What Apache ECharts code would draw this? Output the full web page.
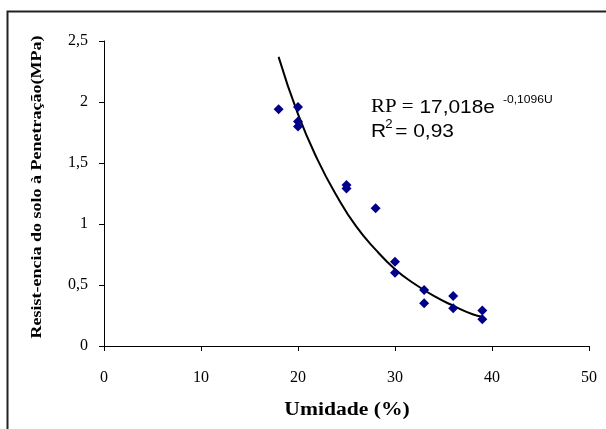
<!DOCTYPE html>
<html>
<head>
<meta charset="utf-8">
<script src="https://cdn.jsdelivr.net/npm/echarts@6/dist/echarts.min.js"></script>
<style>html,body{margin:0;padding:0;background:#fff;}#c{width:606px;height:429px;}</style>
</head>
<body>
<div id="c"></div>
<script>
// Observed points: humidity (%) and penetration resistance (MPa)
var umidade = [18, 20, 20, 20, 25, 25, 28, 30, 30, 33, 33, 36, 36, 39, 39];
var resistencia = [1.94, 1.96, 1.84, 1.80, 1.32, 1.29, 1.13, 0.69, 0.60, 0.46, 0.35, 0.41, 0.31, 0.29, 0.22];
// Trend line points
var trendX = [18, 20, 22, 24, 26, 28, 30, 32, 34, 36, 38, 39];
var trendY = [2.37, 1.90, 1.53, 1.23, 0.98, 0.79, 0.63, 0.51, 0.41, 0.33, 0.26, 0.24];
var xTicks = [0, 10, 20, 30, 40, 50];
var yTicks = ['0', '0,5', '1', '1,5', '2', '2,5'];
var xName = 'Umidade (%)';
var yName = 'Resist-encia do solo à Penetração(MPa)';

var chart = echarts.init(document.getElementById('c'), null, {renderer: 'canvas'});
var pts = umidade.map(function (u, i) { return [u, resistencia[i]]; });
var trend = trendX.map(function (u, i) { return [u, trendY[i]]; });
var serif = '"Liberation Serif", "DejaVu Serif", serif';
var sans = '"Liberation Sans", Arial, sans-serif';

chart.setOption({
  animation: false,
  backgroundColor: '#fff',
  grid: {left: 104, right: 17, top: 41, bottom: 83, containLabel: false},
  xAxis: {
    type: 'value', min: 0, max: 50, interval: 10,
    axisLine: {show: true, onZero: false, lineStyle: {color: '#000', width: 1}},
    axisTick: {show: true, inside: false, length: 5, lineStyle: {color: '#000'}},
    splitLine: {show: false},
    axisLabel: {margin: 24, color: '#000', fontFamily: serif, fontSize: 16,
      formatter: function (v) { return String(v); }}
  },
  yAxis: {
    type: 'value', min: 0, max: 2.5, interval: 0.5,
    axisLine: {show: true, onZero: false, lineStyle: {color: '#000', width: 1}},
    axisTick: {show: true, inside: false, length: 5, lineStyle: {color: '#000'}},
    splitLine: {show: false},
    axisLabel: {margin: 16, color: '#000', fontFamily: serif, fontSize: 16,
      formatter: function (v) { return yTicks[Math.round(v / 0.5)]; }}
  },
  series: [
    {type: 'line', data: trend, smooth: true, symbol: 'none', silent: true,
      lineStyle: {color: '#000', width: 2}, z: 2},
    {type: 'scatter', data: pts, symbol: 'diamond', symbolSize: 10,
      itemStyle: {color: '#00008B', opacity: 1}, z: 3}
  ],
  graphic: [
    {type: 'rect', left: 5, top: 9, silent: true,
      shape: {x: 0, y: 0, width: 700, height: 500},
      style: {fill: 'none', stroke: '#222', lineWidth: 2}},
    {type: 'text', x: 347, y: 410, scaleX: 1.2, silent: true,
      style: {text: xName, font: 'bold 18px ' + serif, fill: '#000',
        textAlign: 'center', textVerticalAlign: 'middle'}},
    {type: 'text', x: 37, y: 187, rotation: Math.PI / 2, scaleX: 1.2, silent: true,
      style: {text: yName, font: 'bold 15px ' + serif, fill: '#000',
        textAlign: 'center', textVerticalAlign: 'middle'}},
    {type: 'group', left: 371, top: 94, scaleX: 1.1, children: [
      {type: 'text', x: 0, y: 4, style: {text: 'RP = ', font: '19px ' + serif, fill: '#000'}},
      {type: 'text', x: 44, y: 4, style: {text: '17,018e', font: '19px ' + sans, fill: '#000'}},
      {type: 'text', x: 120, y: 0, style: {text: '-0,1096U', font: '11px ' + sans, fill: '#000'}},
      {type: 'text', x: 0, y: 28, style: {text: 'R', font: '19px ' + sans, fill: '#000'}},
      {type: 'text', x: 13, y: 25, style: {text: '2', font: '12px ' + sans, fill: '#000'}},
      {type: 'text', x: 22, y: 28, style: {text: '= 0,93', font: '19px ' + sans, fill: '#000'}}
    ]}
  ]
});
</script>
</body>
</html>
